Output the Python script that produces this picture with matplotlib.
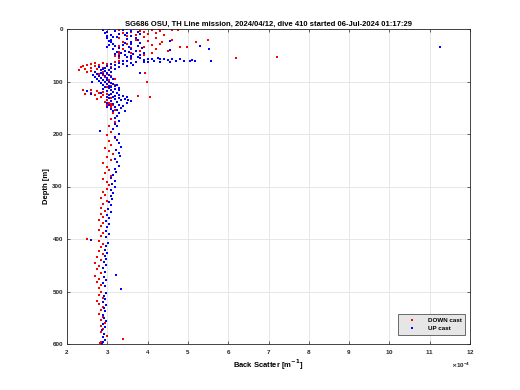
import matplotlib
matplotlib.use("Agg")
import matplotlib.pyplot as plt
from matplotlib.ticker import ScalarFormatter

# ---- data (back scatter in units of 1e-4 m^-1, depth in m) ----
down_depth = [0, 0, 1, 2, 2, 3, 4, 5, 6, 7, 8, 10, 11, 12, 14, 15, 17, 18, 20, 21, 23, 24, 25, 26, 28, 29,
              31, 32, 34, 35, 36, 38, 39, 41, 42, 44, 45, 46, 48, 50, 51, 53, 54, 55, 56, 58, 60, 62,
              0, 0, 0, 2, 21, 34, 24,
              63, 64, 65, 66, 67, 68, 69, 70, 71, 72, 73, 74, 75, 76, 77, 78, 80, 81, 82, 84, 85, 86, 88, 90,
              92, 95, 98, 100, 102, 104, 106, 108, 110, 112, 114, 116, 117, 118, 119, 120, 121, 122, 123, 124,
              125, 126, 128, 129, 130, 131, 133, 135, 137, 139, 140, 142, 143, 144, 145, 146, 147, 148, 150,
              155, 160, 166, 172, 178, 184, 190, 196, 202, 208, 214, 220, 226, 232, 238, 244, 250, 256, 262,
              268, 274, 280, 286, 292, 298, 304, 310, 316, 322, 328, 334, 340, 346, 352, 358, 364, 370, 376,
              382, 388, 394, 400, 404, 410, 416, 422, 428, 434, 440, 446, 452, 458, 464, 470, 476, 482, 488,
              494, 500, 506, 512, 518, 524, 530, 536, 542, 548, 554, 560, 566, 572, 578, 584, 590, 596, 599]
down_bs = [3.5, 10.4, 4.1, 3.3, 4.6, 3.8, 4.3, 3.6, 3.9, 4.2, 3.4, 4.0, 3.7, 4.4, 3.5, 3.9, 4.2, 3.3, 3.7, 4.6,
           4.0, 3.4, 5.2, 3.8, 4.3, 3.5, 4.1, 3.3, 3.9, 4.8, 3.6, 4.2, 3.4, 3.8, 4.5, 3.3, 3.6, 4.1, 3.3, 3.9,
           3.2, 7.2, 3.5, 3.3, 6.2, 3.6, 3.3, 3.9,
           5.87, 4.38, 4.28, 4.76, 5.5, 4.97, 4.35,
           3.2, 2.9, 2.7, 2.6, 3.0, 2.5, 2.8, 2.4, 2.7, 3.1, 2.35, 2.6, 2.9, 2.45, 2.75, 2.3, 2.6, 2.9, 2.5,
           3.94, 2.8, 3.0, 2.9, 3.1, 2.95, 3.2, 3.05, 3.98, 3.1, 3.0, 3.2, 3.1, 3.0, 3.3, 2.9, 2.6, 2.4, 2.5,
           2.75, 2.9, 2.6, 2.8, 2.45, 3.0, 2.7, 2.9, 3.76, 4.06, 2.85, 3.1, 2.75, 3.0, 3.1, 2.95, 3.05, 3.1,
           3.0, 3.15, 3.05, 3.1, 3.0, 3.08, 3.1, 3.2, 3.15, 3.25, 3.1, 3.2, 3.05, 3.15, 3.1, 3.0, 3.2, 3.05,
           3.1, 2.95, 3.05, 3.15, 3.0, 3.1, 2.9, 3.0, 3.05, 2.95, 3.1, 2.9, 3.0, 3.05, 3.0, 2.9, 2.95, 2.85,
           3.0, 2.9, 2.85, 2.95, 2.85, 2.9, 2.8, 2.9, 2.85, 2.8, 2.9, 2.85, 2.5, 2.8, 2.9, 2.85, 2.8, 2.9,
           2.75, 2.85, 2.7, 2.8, 2.75, 2.85, 2.7, 2.8, 2.75, 2.85, 2.8, 2.85, 2.8, 2.9, 2.75, 2.8, 2.9, 2.85,
           2.8, 2.9, 2.85, 2.95, 2.85, 2.9, 2.85, 3.0, 3.38, 2.85, 2.82]

up_depth = [600, 597, 592, 586, 580, 574, 568, 562, 556, 550, 544, 538, 532, 526, 520, 514, 508, 502, 496,
            490, 484, 478, 472, 468, 462, 456, 450, 444, 438, 432, 426, 420, 414, 408, 402, 396, 390, 384,
            378, 372, 366, 360, 354, 348, 342, 336, 330, 324, 318, 312, 306, 300, 296, 290, 284, 278, 272,
            266, 260, 254, 248, 242, 236, 230, 224, 218, 212, 206, 200, 194, 190, 185, 180, 175, 170, 165,
            160, 157, 156,
            155, 153, 151, 149, 148, 146, 145, 144, 142, 141, 140, 139, 138, 137, 136, 135, 134, 133, 132,
            131, 130, 129, 129, 128, 127, 126, 125, 124, 123, 122, 121, 120, 119, 118, 117, 116, 115, 114,
            113, 112, 111, 110, 109, 108, 107, 106, 105, 104, 103, 102, 101, 100, 100, 99, 98, 97, 96, 95,
            94, 93, 92, 91, 90, 89, 88, 87, 86, 85, 84, 83, 83, 82, 81, 80, 79, 78, 77, 76, 75, 74, 73, 72,
            71, 70, 69, 68, 67, 66, 65,
            55, 56, 57, 58, 56, 57, 59, 58, 60, 57, 62, 63, 61, 62, 61, 60, 59, 64, 63, 60, 60, 57, 63,
            32, 38, 61, 59, 60, 34,
            0, 1, 2, 3, 4, 5, 6, 7, 8, 9, 10, 11, 12, 13, 14, 15, 16, 17, 18, 19, 20, 21, 22, 23, 24, 25,
            26, 27, 28, 29, 30, 31, 32, 33, 34, 35, 36, 37, 38, 39, 40, 41, 42, 43, 44, 45, 46, 47, 48, 49,
            50, 51, 52, 53, 54]
up_bs = [2.87, 2.9, 2.95, 2.9, 2.92, 2.88, 2.95, 2.9, 2.97, 2.93, 2.9, 2.95, 2.92, 2.97, 2.9, 2.95, 2.92,
         2.98, 3.33, 2.95, 2.9, 2.97, 2.93, 3.22, 2.95, 2.9, 2.97, 2.92, 2.98, 2.95, 3.0, 2.95, 2.98, 3.02,
         2.59, 2.98, 3.03, 2.97, 3.0, 3.05, 2.98, 3.03, 3.0, 3.08, 3.02, 3.1, 3.05, 3.12, 3.08, 3.15, 3.1,
         3.18, 3.12, 3.2, 3.1, 3.15, 3.22, 3.18, 3.3, 3.25, 3.2, 3.32, 3.28, 3.22, 3.35, 3.3, 3.25, 3.2,
         3.3, 2.82, 3.15, 3.25, 3.18, 3.3, 3.2, 3.25, 3.3, 3.44, 3.15,
         3.25, 3.1, 3.35, 3.0, 3.2, 3.4, 3.05, 3.3, 3.15, 3.5, 3.0, 3.25, 3.6, 3.1, 3.35, 3.52, 3.2, 3.45,
         3.05, 3.3, 3.15, 3.0, 3.48, 3.4, 3.2, 3.05, 3.3, 3.1, 2.6, 3.25, 2.85, 3.15, 2.5, 3.0, 3.3, 3.1,
         2.9, 3.2, 3.05, 3.3, 3.1, 2.95, 3.2, 3.05, 3.25, 2.9, 3.15, 3.0, 2.85, 3.1, 2.95, 3.05, 2.61, 2.8,
         3.0, 2.9, 3.15, 2.75, 3.0, 2.85, 3.1, 2.7, 2.95, 2.8, 3.05, 2.65, 2.9, 2.75, 3.0, 2.85, 3.81, 3.1,
         2.7, 2.95, 2.85, 3.05, 2.9, 3.2, 2.95, 3.1, 2.8, 3.3, 3.0, 3.5, 3.2, 3.65, 3.4, 3.1, 3.3,
         3.6, 3.8, 4.0, 4.1, 4.25, 4.4, 4.5, 4.6, 4.7, 4.3, 3.7, 3.9, 4.15, 4.3, 3.5, 3.4, 3.9, 3.6, 4.0,
         4.9, 5.05, 4.8, 4.55,
         5.3, 5.52, 5.57, 5.09, 5.17, 11.25,
         3.05, 3.4, 2.9, 3.6, 3.2, 3.75, 3.0, 3.5, 2.95, 3.3, 3.8, 3.1, 3.45, 3.0, 3.6, 3.15, 3.25, 3.7,
         3.0, 3.5, 3.1, 3.75, 3.05, 4.56, 3.6, 3.1, 3.45, 3.8, 3.15, 3.6, 3.05, 3.4, 3.75, 3.2, 3.55, 3.0,
         3.85, 3.3, 3.6, 3.15, 4.56, 3.45, 3.7, 3.25, 3.55, 3.9, 3.35, 3.65, 3.2, 3.8, 3.45, 3.6, 3.3,
         3.75, 3.5]

title = "SG686 OSU, TH Line mission, 2024/04/12, dive 410 started 06-Jul-2024 01:17:29"
x_ticks = [2, 3, 4, 5, 6, 7, 8, 9, 10, 11, 12]
y_ticks = [0, 100, 200, 300, 400, 500, 600]

plt.rcParams['font.family'] = ['Liberation Sans', 'DejaVu Sans']
plt.rcParams['font.weight'] = 'bold'
plt.rcParams['mathtext.default'] = 'bf'

fig = plt.figure(figsize=(5.2, 3.9), dpi=100)
ax = fig.add_axes([67/520, 1 - 344/390, 403/520, 315/390])

scale = 1e-4
ax.plot([v * scale for v in down_bs], down_depth, linestyle='none', marker='s',
        markersize=1.9, markeredgewidth=0, color=(1, 0, 0), label='DOWN cast')
ax.plot([v * scale for v in up_bs], up_depth, linestyle='none', marker='s',
        markersize=1.9, markeredgewidth=0, color=(0, 0, 1), label='UP cast')

ax.set_xlim(2e-4, 12e-4)
ax.set_ylim(600, 0)
ax.set_xticks([t * scale for t in x_ticks])
ax.set_yticks(y_ticks)
fmt = ScalarFormatter(useMathText=True)
fmt.set_powerlimits((-4, -4))
ax.xaxis.set_major_formatter(fmt)
ax.xaxis.get_offset_text().set_fontsize(4.5)

ax.grid(True, color='#e3e3e3', linewidth=0.6)
ax.set_axisbelow(True)
ax.tick_params(direction='in', length=2.5, width=0.5, labelsize=4.5, top=True, right=True,
               colors='#262626', pad=3)
for s in ax.spines.values():
    s.set_linewidth(0.6)
    s.set_color('#262626')

ax.set_title(title, fontsize=5.5, fontweight='bold', pad=2)
ax.set_xlabel('Back Scatter [m$^{-1}$]', fontsize=5.5, fontweight='bold', labelpad=1)
ax.set_ylabel('Depth [m]', fontsize=5.5, fontweight='bold', labelpad=2)

leg = ax.legend(loc='lower right', fontsize=4.5, frameon=True, fancybox=False,
                facecolor='#e6e6e6', edgecolor='#333333', markerscale=1.1,
                borderpad=0.5, handlelength=3.5, bbox_to_anchor=(0.995, 0.02))
leg.get_frame().set_linewidth(0.5)
leg.get_frame().set_alpha(1)

fig.savefig('out.png', dpi=100)
